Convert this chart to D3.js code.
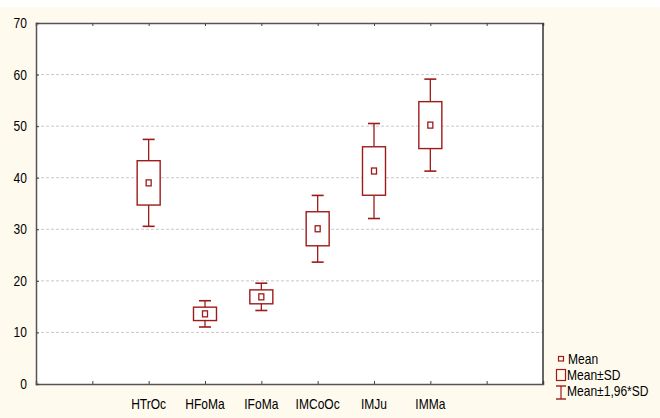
<!DOCTYPE html>
<html>
<head>
<meta charset="utf-8">
<script src="https://cdn.jsdelivr.net/npm/d3@7"></script>
<style>
  body { margin: 0; background: #fff; }
  text { font-family: "Liberation Sans", Arial, sans-serif; fill: #000; }
</style>
</head>
<body>
<div id="chart"></div>
<script>
var groups = ["HTrOc", "HFoMa", "IFoMa", "IMCoOc", "IMJu", "IMMa"];
var means = [39.0, 13.6, 16.9, 30.1, 41.3, 50.2];
var sds = [4.3, 1.3, 1.35, 3.3, 4.7, 4.55];
var yTicks = [0, 10, 20, 30, 40, 50, 60, 70];
var legendLabels = ["Mean", "Mean\u00b1SD", "Mean\u00b11,96*SD"];

var W = 660, H = 418;
var margin = { top: 23, right: 117, bottom: 34, left: 36 };
var width = W - margin.left - margin.right,
    height = H - margin.top - margin.bottom;
var red = "#9e1b1b";

var svg = d3.select("#chart").append("svg")
    .attr("width", W)
    .attr("height", H);

// cream page background
svg.append("rect")
    .attr("x", 0).attr("y", 7)
    .attr("width", W).attr("height", H - 7)
    .attr("fill", "#fffaee");

var g = svg.append("g")
    .attr("transform", "translate(" + margin.left + "," + margin.top + ")");

// groups sit at positions 2..7 on a 0..9 axis
var x = d3.scaleLinear().domain([0, 9]).range([0, width]);
var y = d3.scaleLinear().domain([0, 70]).range([height, 0]);

g.append("rect")
    .attr("width", width).attr("height", height)
    .attr("fill", "#fff");

// dashed grid
g.selectAll(".grid")
    .data(yTicks.filter(function (d) { return d > 0 && d < 70; }))
    .enter().append("line")
    .attr("class", "grid")
    .attr("x1", 0).attr("x2", width)
    .attr("y1", function (d) { return y(d); })
    .attr("y2", function (d) { return y(d); })
    .attr("stroke", "#c8c8c8")
    .attr("stroke-dasharray", "3,2");

// axes (ticks pointing inward)
var xTicks = d3.range(1, 9);
var xAxis = d3.axisBottom(x).tickValues(xTicks).tickSize(-3).tickFormat("");
var xAxisTop = d3.axisTop(x).tickValues(xTicks).tickSize(-3).tickFormat("");
var yAxis = d3.axisLeft(y).tickValues(yTicks).tickSize(-3).tickPadding(9);

g.append("g").attr("transform", "translate(0," + height + ")").call(xAxis);
g.append("g").call(xAxisTop);
g.append("g").call(yAxis);

g.selectAll(".domain").attr("stroke", "#555").attr("stroke-width", 1.5);
g.selectAll(".tick line").attr("stroke", "#444");
g.selectAll(".tick text").attr("font-size", 14)
    .style("font-family", "'Liberation Sans', Arial, sans-serif");

g.append("line")
    .attr("x1", width).attr("x2", width)
    .attr("y1", 0).attr("y2", height)
    .attr("stroke", "#333").attr("stroke-width", 1.5);

// category labels
g.selectAll(".cat")
    .data(groups)
    .enter().append("text")
    .attr("class", "cat")
    .attr("x", function (d, i) { return x(i + 2); })
    .attr("y", height + 25)
    .attr("text-anchor", "middle")
    .attr("font-size", 14)
    .text(function (d) { return d; });

// boxes
var boxW = 23, capW = 12;
var box = g.selectAll(".box")
    .data(groups)
    .enter().append("g")
    .attr("class", "box")
    .attr("transform", function (d, i) { return "translate(" + x(i + 2) + ",0)"; });

box.append("line")
    .attr("x1", 0).attr("x2", 0)
    .attr("y1", function (d, i) { return y(means[i] + 1.96 * sds[i]); })
    .attr("y2", function (d, i) { return y(means[i] - 1.96 * sds[i]); })
    .attr("stroke", red).attr("stroke-width", 1.3);

box.selectAll(".cap")
    .data(function (d, i) { return [means[i] + 1.96 * sds[i], means[i] - 1.96 * sds[i]]; })
    .enter().append("line")
    .attr("x1", -capW / 2).attr("x2", capW / 2)
    .attr("y1", function (v) { return y(v); })
    .attr("y2", function (v) { return y(v); })
    .attr("stroke", red).attr("stroke-width", 1.6);

box.append("rect")
    .attr("x", -boxW / 2)
    .attr("y", function (d, i) { return y(means[i] + sds[i]); })
    .attr("width", boxW)
    .attr("height", function (d, i) { return y(means[i] - sds[i]) - y(means[i] + sds[i]); })
    .attr("fill", "#fff")
    .attr("stroke", red).attr("stroke-width", 1.4);

box.append("rect")
    .attr("x", -2.5)
    .attr("y", function (d, i) { return y(means[i]) - 3; })
    .attr("width", 5).attr("height", 6)
    .attr("fill", "#fff")
    .attr("stroke", red).attr("stroke-width", 1.3);

// legend
var lg = svg.append("g").attr("transform", "translate(556,0)");
lg.append("rect").attr("x", 2.5).attr("y", 356.5).attr("width", 5).attr("height", 4.5)
    .attr("fill", "none").attr("stroke", red).attr("stroke-width", 1.2);
lg.append("rect").attr("x", 0.5).attr("y", 369.5).attr("width", 9).attr("height", 11)
    .attr("fill", "none").attr("stroke", red).attr("stroke-width", 1.2);
lg.append("line").attr("x1", 5).attr("x2", 5).attr("y1", 386).attr("y2", 399)
    .attr("stroke", red).attr("stroke-width", 1.2);
lg.append("line").attr("x1", 0).attr("x2", 10).attr("y1", 386).attr("y2", 386)
    .attr("stroke", red).attr("stroke-width", 1.4);
lg.append("line").attr("x1", 0).attr("x2", 10).attr("y1", 399).attr("y2", 399)
    .attr("stroke", red).attr("stroke-width", 1.4);

lg.selectAll(".lt")
    .data(legendLabels)
    .enter().append("text")
    .attr("class", "lt")
    .attr("x", function (d, i) { return i === 0 ? 12 : 11; })
    .attr("y", function (d, i) { return [364, 380, 396][i]; })
    .attr("font-size", 14)
    .text(function (d) { return d; });

// the original uses a narrow face: squeeze every label horizontally about its anchor
svg.selectAll("text").each(function () {
    var ax = +(this.getAttribute("x") || 0);
    d3.select(this).attr("transform",
        "translate(" + ax + ",0) scale(0.86,1) translate(" + (-ax) + ",0)");
});
</script>
</body>
</html>
